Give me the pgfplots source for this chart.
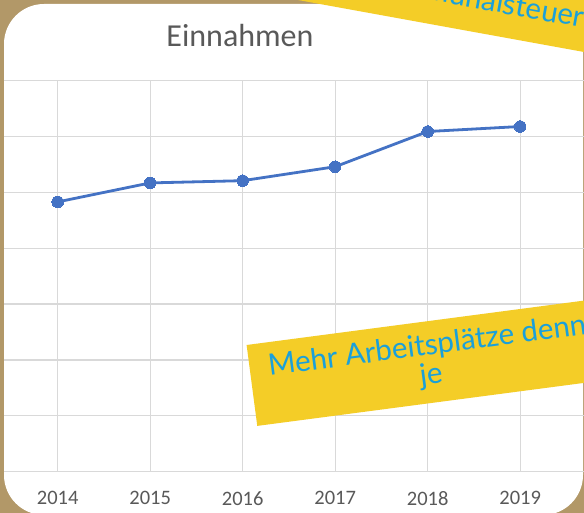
\documentclass[border=0pt]{standalone}
\usepackage{pgfplots}
\pgfplotsset{compat=1.18}
\usepackage{fontspec}
\setmainfont{Carlito}
\newfontfamily\bannerfont{Lato}
\definecolor{bgtan}{RGB}{178,152,104}
\definecolor{gridgray}{RGB}{217,217,217}
\definecolor{txtgray}{RGB}{89,89,89}
\definecolor{lineblue}{RGB}{68,114,196}
\definecolor{banneryellow}{RGB}{244,205,39}
\definecolor{bannerblue}{RGB}{26,160,218}
\begin{document}
\begin{tikzpicture}[x=1pt,y=1pt]
\useasboundingbox (0,0) rectangle (584,513);
\clip (0,0) rectangle (584,513);
\fill[bgtan] (0,0) rectangle (584,513);
\fill[white, rounded corners=40pt] (4,-2) rectangle (583,509);
\begin{axis}[
  at={(4pt,41.3pt)}, anchor=south west,
  scale only axis, width=580pt, height=391pt,
  xmin=2013.42, xmax=2019.69, ymin=0, ymax=7,
  xtick={2014,2015,2016,2017,2018,2019},
  ytick={0,1,2,3,4,5,6,7},
  yticklabels={},
  grid=major,
  grid style={gridgray, line width=1.3pt},
  separate axis lines,
  x axis line style={gridgray, line width=1.4pt},
  y axis line style={draw=none},
  major tick length=0pt,
  /pgf/number format/1000 sep={},
  /pgf/number format/assume math mode=true,
  xticklabel style={font=\fontsize{20.5}{24}\selectfont, text=txtgray, yshift=-16pt},
  clip=false,
]
\addplot[lineblue, line width=2.8pt, mark=*, mark size=5.8pt, mark options={fill=lineblue, draw=lineblue, line width=0pt}]
coordinates {(2014,4.83) (2015,5.17) (2016,5.21) (2017,5.46) (2018,6.09) (2019,6.18)};
\end{axis}
\node[font=\fontsize{32}{36}\selectfont, text=txtgray, anchor=base] at (240,466) {Einnahmen};
% bottom banner
\begin{scope}[shift={(429.4,150.9)}, rotate=7.5, transform shape]
\fill[banneryellow] (-179,-40.8) rectangle (179,40.8);
\node[font=\bannerfont\fontsize{29.5}{29}\selectfont, text=bannerblue, align=center] at (0,1) {Mehr Arbeitsplätze denn\\je};
\end{scope}
% top banner
\begin{scope}[shift={(584,461)}, rotate=-10.3, transform shape]
\fill[banneryellow] (-420,0) rectangle (100,95);
\node[font=\bannerfont\fontsize{29.5}{29}\selectfont, text=bannerblue, anchor=base east, inner sep=0pt] at (-6,23.6) {Kommunalsteuer};
\end{scope}
\end{tikzpicture}
\end{document}
